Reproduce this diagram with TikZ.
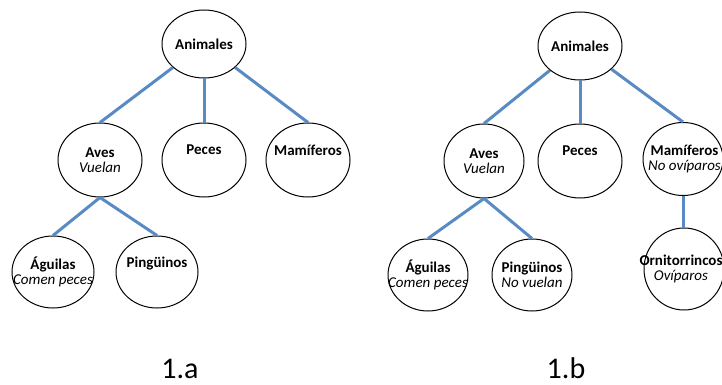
\documentclass[tikz,border=0pt]{standalone}
\usepackage{fontspec}
\setmainfont{Carlito}
\usetikzlibrary{shapes.geometric}
\definecolor{linkblue}{RGB}{88,138,196}
\tikzset{
  bubble/.style={ellipse,draw=black,line width=1pt,minimum width=84pt,minimum height=74pt,inner sep=0pt},
  txtfont/.style={align=center,font=\fontsize{15}{15.5}\selectfont,inner sep=0pt},
  txt/.style={label={[txtfont]center:#1}},
  link/.style={draw=linkblue,line width=3pt},
  caption/.style={font=\fontsize{30}{32}\selectfont,anchor=base}
}
\begin{document}
\begin{tikzpicture}[x=1pt,y=-1pt]
\useasboundingbox (0,0) rectangle (722,385);
% tree 1.a
\node[bubble,minimum height=68pt,txt={\textbf{Animales}}] (a1) at (204,44) {};
\node[bubble,txt={\textbf{Aves}\\\textit{Vuelan}}] (a2) at (100,160) {};
\node[bubble,txt={\textbf{Peces}\\\strut}] (a3) at (204,160) {};
\node[bubble,txt={\textbf{Mamíferos}\\\strut}] (a4) at (308,160) {};
\node[bubble,minimum width=82pt,minimum height=72pt,txt={\textbf{Águilas}\\\textit{Comen peces}}] (a5) at (53,272) {};
\node[bubble,minimum width=82pt,minimum height=72pt,txt={\textbf{Pingüinos}\\\strut}] (a6) at (157,272) {};
\draw[link] (a1) -- (a2.north);
\draw[link] (a1) -- (a3.north);
\draw[link] (a1) -- (a4.north);
\draw[link] (a2.south) -- (a5.north);
\draw[link] (a2.south) -- (a6.north);
% tree 1.b
\node[bubble,minimum height=68pt,txt={\textbf{Animales}}] (b1) at (580,46) {};
\node[bubble,minimum width=80pt,txt={\textbf{Aves}\\\textit{Vuelan}}] (b2) at (484,161) {};
\node[bubble,txt={\textbf{Peces}\\\strut}] (b3) at (580,161) {};
\node[bubble,minimum width=80pt,minimum height=73pt,label={[txtfont,xshift=1.5pt]center:\textbf{Mamíferos}\\\textit{No ovíparos}}] (b4) at (683,159) {};
\node[bubble,minimum width=80pt,minimum height=72pt,txt={\textbf{Águilas}\\\textit{Comen peces}}] (b5) at (428,275) {};
\node[bubble,minimum width=80pt,minimum height=72pt,txt={\textbf{Pingüinos}\\\textit{No vuelan}}] (b6) at (532,275) {};
\node[bubble,minimum width=80pt,minimum height=82pt,label={[txtfont,xshift=-3pt]center:\textbf{Ornitorrincos}\\\textit{Ovíparos}}] (b7) at (684,269) {};
\draw[link] (b1) -- (b2.north);
\draw[link] (b1) -- (b3.north);
\draw[link] (b1) -- (b4.north);
\draw[link] (b2.south) -- (b5.north);
\draw[link] (b2.south) -- (b6.north);
\draw[link] (b4.south) -- (b4.south |- b7.north);
% captions
\node[caption] (ca) at (180,378) {1.a};
\node[caption] (cb) at (566,378) {1.b};
\end{tikzpicture}
\end{document}
